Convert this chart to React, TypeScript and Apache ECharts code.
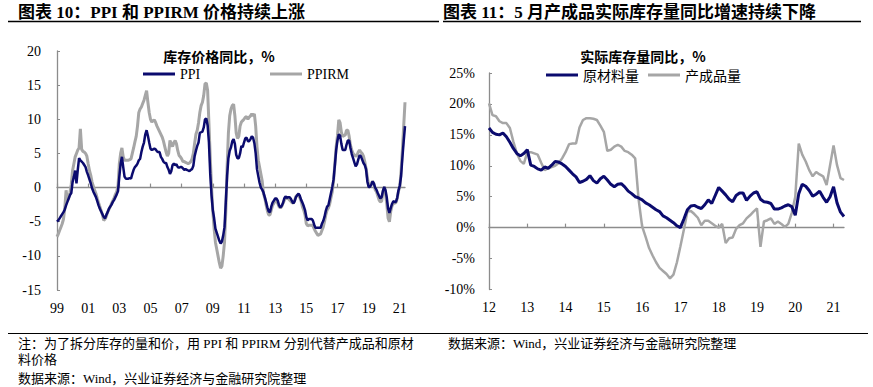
import React, { useEffect, useRef } from "react";
import * as echarts from "echarts";

// ---------- Left chart: PPI & PPIRM YoY (%), monthly 1999-01 .. 2021-05 ----------
const leftStartYear = 1999;
const leftEndYear = 2021;
const leftEndMonth = 5;

const ppi = [
  -5.0, -4.8, -4.5, -4.2, -3.9, -3.6, -3.2, -2.6, -2.1, -1.6, -1.1, -0.8,
  0.8, 1.6, 2.5, 0.6, 2.6, 4.3, 4.0, 3.8, 3.6, 3.3, 3.0, 2.3,
  1.8, 1.2, 0.6, -0.1, -0.6, -1.0, -1.4, -2.0, -2.6, -3.1, -3.5, -3.9,
  -4.3, -4.5, -4.0, -3.6, -3.1, -2.8, -2.5, -2.1, -1.8, -1.4, -1.0, -0.5,
  1.6, 3.5, 4.5, 3.0, 1.6, 1.3, 1.3, 1.3, 1.4, 1.3, 2.0, 2.6,
  3.0, 3.2, 3.5, 4.0, 4.2, 5.2, 6.0, 6.6, 7.8, 8.4, 7.6, 6.6,
  5.7, 5.5, 5.6, 5.7, 5.6, 5.3, 5.2, 5.2, 4.5, 4.2, 3.8, 3.6,
  3.6, 3.0, 2.6, 2.0, 2.4, 3.3, 3.5, 3.3, 3.4, 3.0, 2.9, 3.0,
  3.0, 2.8, 2.6, 2.7, 2.6, 2.5, 2.4, 2.6, 2.7, 3.2, 4.6, 5.4,
  6.1, 6.6, 8.0, 8.1, 8.2, 8.8, 10.0, 10.1, 9.1, 6.6, 2.0, -1.1,
  -3.3, -4.5, -6.0, -6.6, -7.2, -7.8, -8.2, -7.9, -7.0, -5.8, -2.1, 1.7,
  4.3, 5.4, 5.9, 6.8, 7.1, 6.4, 4.8, 4.3, 4.3, 5.0, 6.1, 5.9,
  6.6, 7.2, 7.3, 6.8, 6.8, 7.1, 7.5, 7.3, 6.5, 5.0, 2.7, 1.7,
  0.7, 0.0, -0.3, -0.7, -1.4, -2.1, -2.9, -3.5, -3.6, -2.8, -2.2, -1.9,
  -1.6, -1.6, -1.9, -2.6, -2.9, -2.7, -2.3, -1.6, -1.3, -1.5, -1.4, -1.4,
  -1.6, -2.0, -2.3, -2.0, -1.4, -1.1, -0.9, -1.2, -1.8, -2.2, -2.7, -3.3,
  -4.3, -4.8, -4.6, -4.6, -4.6, -4.8, -5.4, -5.9, -5.9, -5.9, -5.9, -5.9,
  -5.3, -4.9, -4.3, -3.4, -2.8, -2.6, -1.7, -0.8, 0.1, 1.2, 3.3, 5.5,
  6.9, 7.8, 7.6, 6.4, 5.5, 5.5, 5.5, 6.3, 6.9, 6.9, 5.8, 4.9,
  4.3, 3.7, 3.1, 3.4, 4.1, 4.7, 4.6, 4.1, 3.6, 3.3, 2.7, 0.9,
  0.1, 0.1, 0.4, 0.9, 0.6, 0.0, -0.3, -0.8, -1.2, -1.6, -1.4, -0.5,
  0.1, -0.4, -1.5, -3.1, -3.7, -3.0, -2.4, -2.0, -2.1, -2.1, -1.5, -0.4,
  0.3, 1.7, 4.4, 6.8, 9.0,
];

const ppirm = [
  -7.2, -6.8, -6.3, -5.8, -5.3, -4.6, -3.0, -0.4, -1.9, -1.5, -0.7, 0.5,
  2.5, 3.5, 4.5, 5.0, 5.5, 5.8, 8.6, 5.6, 5.3, 5.2, 5.0, 4.6,
  3.5, 2.5, 1.8, 0.8, 0.2, -0.4, -0.9, -1.6, -2.2, -2.8, -3.4, -4.0,
  -4.8, -4.6, -4.2, -3.6, -3.2, -2.8, -2.3, -1.9, -1.5, -1.0, -0.6, 0.3,
  3.5, 5.0, 5.8, 4.5, 4.0, 4.0, 4.0, 4.0, 4.1, 4.2, 5.0, 5.8,
  6.7, 7.5, 9.0, 11.0, 11.5, 11.8, 12.3, 12.8, 13.5, 14.2, 12.5, 11.0,
  10.0, 9.6, 9.8, 9.9, 9.5, 9.0, 8.6, 8.2, 7.8, 7.4, 6.8, 6.0,
  5.2, 4.6, 5.0, 6.9, 6.4, 6.0, 6.6, 6.9, 6.4, 5.4, 4.7, 4.5,
  4.2, 3.8, 3.8, 3.7, 3.6, 3.5, 3.6, 3.8, 4.2, 5.0, 6.5, 7.8,
  8.4, 9.5, 11.0, 12.0, 12.5, 13.5, 15.2, 15.3, 14.2, 9.4, 4.5, 0.1,
  -3.5, -6.0, -8.0, -9.0, -10.0, -11.0, -11.8, -11.5, -10.0, -8.0, -3.5, 3.0,
  8.0, 10.5, 11.5, 12.0, 12.2, 10.5, 8.0, 7.2, 7.5, 9.0, 9.6, 9.8,
  10.0, 10.3, 10.4, 10.0, 10.3, 10.5, 10.8, 10.5, 10.8, 9.0, 6.0, 4.0,
  3.0, 2.0, 1.0, -0.9, -1.5, -2.5, -3.4, -4.0, -4.0, -3.3, -2.6, -2.3,
  -1.9, -1.9, -2.3, -2.8, -3.0, -2.8, -2.3, -1.9, -1.5, -1.6, -1.6, -1.8,
  -2.0, -2.2, -2.3, -1.9, -1.3, -1.1, -1.2, -1.5, -2.0, -2.8, -3.3, -4.0,
  -5.3, -5.6, -5.5, -5.5, -5.5, -5.6, -6.0, -6.4, -6.7, -7.0, -6.9, -6.8,
  -6.3, -5.8, -5.0, -4.0, -3.3, -3.0, -2.4, -1.5, -0.6, 1.0, 3.5, 6.0,
  7.6, 9.9, 9.5, 8.1, 7.5, 7.6, 7.7, 8.4, 8.4, 7.5, 6.2, 5.5,
  5.0, 4.8, 4.6, 4.7, 5.2, 5.5, 5.2, 5.0, 4.6, 3.8, 2.8, 1.5,
  0.3, 0.3, 0.6, 0.9, 0.6, -0.3, -0.6, -1.2, -1.8, -2.1, -2.0, -0.7,
  0.1, -0.9, -2.5, -4.5, -5.0, -3.5, -2.7, -2.3, -2.3, -2.2, -1.6, -0.5,
  0.1, 2.5, 5.5, 9.0, 12.5,
];

// ---------- Right chart: real inventory YoY (%), Feb..Dec each year 2012 .. 2021-05 ----------
const rightStartYear = 2012;
const rightEndYear = 2021;
const rightEndMonth = 5;

const rawMaterial = [
  16.1, 15.4, 15.1, 15.0, 15.3, 14.7, 13.8, 12.8, 12.0, 11.6, 12.0, 12.6,
  10.1, 9.9, 9.5, 9.3, 9.8, 9.6, 10.1, 10.7, 10.6, 10.3, 9.9,
  9.3, 8.7, 8.2, 7.3, 7.5, 7.8, 8.4, 7.6, 7.2, 7.9, 8.3,
  7.7, 7.0, 6.6, 7.0, 7.1, 6.6, 5.9, 5.5, 5.0, 4.8, 4.5,
  4.0, 3.7, 3.3, 2.9, 2.6, 1.9, 1.6, 1.2, 0.8, 0.3, 0.0,
  1.4, 2.9, 3.5, 3.6, 3.3, 3.1, 3.7, 4.5, 3.9, 5.2, 6.5,
  5.9, 5.3, 4.6, 4.2, 5.2, 5.6, 5.6, 4.4, 5.1, 5.6, 5.8,
  4.6, 4.2, 4.1, 3.9, 3.0, 3.0, 3.2, 3.5, 3.7, 3.4, 2.0,
  5.5, 7.0, 6.7, 6.0, 5.1, 5.4, 5.9, 4.9, 4.1, 5.0, 6.6,
  4.0, 2.5, 1.8,
];

const finishedGoods = [
  20.1, 18.2, 18.0, 17.2, 16.9, 16.9, 16.1, 13.9, 12.0, 10.8, 10.3, 12.2,
  12.2, 12.0, 11.8, 10.5, 9.3, 9.6, 9.8, 10.0, 10.4, 11.2, 12.2,
  13.5, 13.6, 13.6, 16.2, 17.4, 17.7, 17.7, 17.6, 17.4, 16.5, 15.5,
  12.4, 12.6, 13.1, 13.4, 13.1, 12.4, 12.2, 11.8, 11.2, 4.5, 0.2,
  -1.5, -3.3, -4.5, -5.6, -6.5, -7.0, -7.5, -8.2, -7.6, -5.6, -3.0,
  -0.3, 2.6, 2.7, 2.2, 1.6, 0.4, 1.1, 1.1, 0.7, 0.3, 0.0,
  0.6, -2.5, -1.7, -1.6, -0.2, 0.4, 0.7, 1.5, 2.0, 2.6, 3.1,
  -3.1, 1.0, 1.2, 1.5, 0.6, 1.0, 0.6, 0.1, 0.6, 2.4, 5.0,
  13.6, 11.8, 10.7, 9.3, 8.3, 9.0, 8.6, 8.3, 6.9, 10.1, 13.3,
  10.1, 8.0, 7.7,
];

const leftCategories: string[] = [];
for (let y = leftStartYear; y <= leftEndYear; y++) {
  const last = y === leftEndYear ? leftEndMonth : 12;
  for (let m = 1; m <= last; m++) leftCategories.push(`${y}-${String(m).padStart(2, "0")}`);
}
const rightCategories: string[] = [];
for (let y = rightStartYear; y <= rightEndYear; y++) {
  const last = y === rightEndYear ? rightEndMonth : 12;
  for (let m = 2; m <= last; m++) rightCategories.push(`${y}-${String(m).padStart(2, "0")}`);
}

const leftTitle = "图表 10：PPI 和 PPIRM 价格持续上涨";
const rightTitle = "图表 11：5 月产成品实际库存量同比增速持续下降";
const leftInnerTitle = "库存价格同比，%";
const rightInnerTitle = "实际库存量同比，%";
const noteLine1 = "注：为了拆分库存的量和价，用 PPI 和 PPIRM 分别代替产成品和原材";
const noteLine2 = "料价格";
const sourceText = "数据来源：Wind，兴业证券经济与金融研究院整理";

const NAVY = "#0b0b6e";
const GRAY = "#a6a6a6";
const AXIS = "#8c8c8c";
const SERIF = '"Liberation Serif", "Times New Roman", "Noto Sans CJK SC", serif';
const CJK = '"Noto Sans CJK SC", "Liberation Serif", sans-serif';

function yearLabel(v: string) {
  return v.slice(2, 4);
}

export default function App() {
  const ref = useRef<HTMLDivElement>(null);
  useEffect(() => {
    if (!ref.current) return;
    const chart = echarts.init(ref.current, undefined, { renderer: "svg" });

    const labelStyle = { color: "#000", fontFamily: SERIF, fontSize: 14 };
    const legendBase = {
      icon: "rect",
      itemWidth: 32,
      itemHeight: 3,
      padding: 0,
      textStyle: { color: "#000", fontFamily: SERIF, fontSize: 14, lineHeight: 14 },
    };
    const noteStyle = { fontSize: 13, fontFamily: SERIF, fill: "#000", align: "left", verticalAlign: "middle" };

    const option: any = {
      animation: false,
      backgroundColor: "#fff",
      grid: [
        { left: 57, right: 873 - 405, top: 51, bottom: 387 - 290 },
        { left: 489, right: 873 - 844, top: 73, bottom: 387 - 289.5 },
      ],
      xAxis: [
        {
          gridIndex: 0, type: "category", data: leftCategories, boundaryGap: false, position: "bottom",
          axisLine: { show: false, onZero: false }, axisTick: { show: false },
          axisLabel: { ...labelStyle, interval: 23, formatter: yearLabel, margin: 11 },
          splitLine: { show: false },
        },
        {
          gridIndex: 0, type: "category", data: leftCategories, boundaryGap: false, position: "top",
          axisLine: { show: true, onZero: true, lineStyle: { color: AXIS, width: 1.3 } },
          axisTick: { show: true, inside: false, length: 4, interval: 23, lineStyle: { color: AXIS, width: 1.2 } },
          axisLabel: { show: false, interval: 23 },
          splitLine: { show: false },
        },
        {
          gridIndex: 1, type: "category", data: rightCategories, boundaryGap: false, position: "bottom",
          axisLine: { show: false, onZero: false }, axisTick: { show: false },
          axisLabel: { ...labelStyle, interval: 10, formatter: yearLabel, margin: 11 },
          splitLine: { show: false },
        },
        {
          gridIndex: 1, type: "category", data: rightCategories, boundaryGap: false, position: "top",
          axisLine: { show: true, onZero: true, lineStyle: { color: AXIS, width: 1.3 } },
          axisTick: { show: true, inside: false, length: 4, interval: 10, lineStyle: { color: AXIS, width: 1.2 } },
          axisLabel: { show: false, interval: 10 },
          splitLine: { show: false },
        },
      ],
      yAxis: [
        {
          gridIndex: 0, type: "value", min: -15, max: 20, interval: 5,
          axisLine: { show: true, lineStyle: { color: AXIS, width: 1.3 } },
          axisTick: { show: true, inside: true, length: 3, lineStyle: { color: AXIS } },
          axisLabel: { ...labelStyle, margin: 16 },
          splitLine: { show: false },
        },
        {
          gridIndex: 1, type: "value", min: -10, max: 25, interval: 5,
          axisLine: { show: true, lineStyle: { color: AXIS, width: 1.3 } },
          axisTick: { show: true, inside: true, length: 3, lineStyle: { color: AXIS } },
          axisLabel: { ...labelStyle, margin: 14, formatter: (v: number) => `${v}%` },
          splitLine: { show: false },
        },
      ],
      legend: [
        { ...legendBase, data: ["PPI"], left: 143, top: 67 },
        { ...legendBase, data: ["PPIRM"], left: 270, top: 67 },
        { ...legendBase, data: ["原材料量"], left: 546, top: 68, textStyle: { ...legendBase.textStyle, fontFamily: CJK } },
        { ...legendBase, data: ["产成品量"], left: 648, top: 68, textStyle: { ...legendBase.textStyle, fontFamily: CJK } },
      ],
      series: [
        {
          name: "PPIRM", type: "line", xAxisIndex: 0, yAxisIndex: 0, data: ppirm,
          symbol: "none", lineStyle: { color: GRAY, width: 3 }, itemStyle: { color: GRAY },
        },
        {
          name: "PPI", type: "line", xAxisIndex: 0, yAxisIndex: 0, data: ppi,
          symbol: "none", lineStyle: { color: NAVY, width: 2.5 }, itemStyle: { color: NAVY },
        },
        {
          name: "产成品量", type: "line", xAxisIndex: 2, yAxisIndex: 1, data: finishedGoods,
          symbol: "none", lineStyle: { color: GRAY, width: 2.5 }, itemStyle: { color: GRAY },
        },
        {
          name: "原材料量", type: "line", xAxisIndex: 2, yAxisIndex: 1, data: rawMaterial,
          symbol: "none", lineStyle: { color: NAVY, width: 3 }, itemStyle: { color: NAVY },
        },
      ],
      graphic: [
        {
          type: "text", x: 18, y: 12,
          style: { text: leftTitle, fontSize: 17, fontWeight: "bold", fontFamily: SERIF, fill: "#000", align: "left", verticalAlign: "middle" },
        },
        {
          type: "text", x: 443, y: 12,
          style: { text: rightTitle, fontSize: 17, fontWeight: "bold", fontFamily: SERIF, fill: "#000", align: "left", verticalAlign: "middle" },
        },
        { type: "line", shape: { x1: 8, y1: 21.5, x2: 439, y2: 21.5 }, style: { stroke: "#000", lineWidth: 1.3 } },
        { type: "line", shape: { x1: 443, y1: 21.5, x2: 861, y2: 21.5 }, style: { stroke: "#000", lineWidth: 1.3 } },
        {
          type: "text", x: 219, y: 56,
          style: { text: leftInnerTitle, fontSize: 14, fontWeight: "bold", fontFamily: CJK, fill: "#000", align: "center", verticalAlign: "middle" },
        },
        {
          type: "text", x: 643, y: 56,
          style: { text: rightInnerTitle, fontSize: 14, fontWeight: "bold", fontFamily: CJK, fill: "#000", align: "center", verticalAlign: "middle" },
        },
        { type: "line", shape: { x1: 8, y1: 333.5, x2: 868, y2: 333.5 }, style: { stroke: "#000", lineWidth: 1 } },
        { type: "text", x: 18, y: 343, style: { ...noteStyle, text: noteLine1 } },
        { type: "text", x: 18, y: 359, style: { ...noteStyle, text: noteLine2 } },
        { type: "text", x: 18, y: 378, style: { ...noteStyle, text: sourceText } },
        { type: "text", x: 448, y: 343, style: { ...noteStyle, text: sourceText } },
      ],
    };

    chart.setOption(option);
    return () => chart.dispose();
  }, []);

  return (
    <div
      ref={ref}
      style={{ position: "fixed", left: 0, top: 0, width: 873, height: 387, background: "#fff" }}
    />
  );
}
